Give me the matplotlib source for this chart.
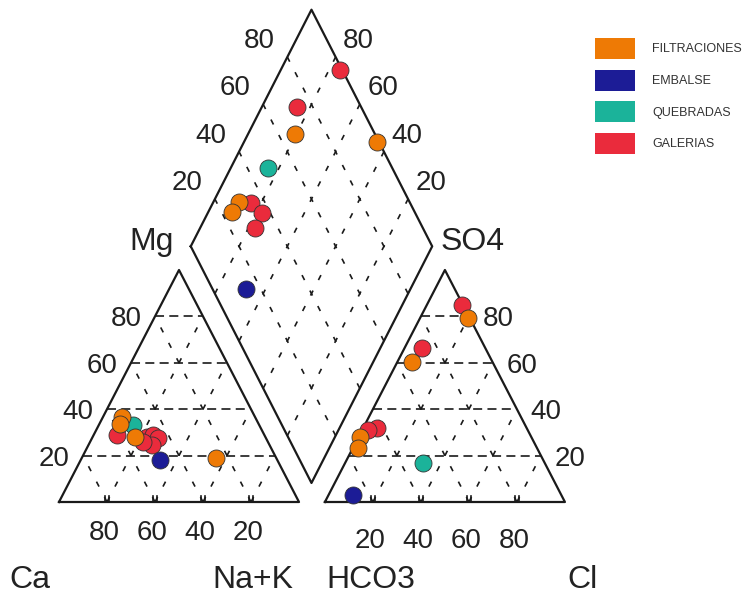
import matplotlib
matplotlib.use("Agg")
import matplotlib.pyplot as plt
from matplotlib.patches import Rectangle

plt.rcParams['font.family'] = ['Liberation Sans', 'DejaVu Sans']
plt.rcParams['lines.scale_dashes'] = False

# ---------------- data (percent) ----------------
groups = ["FILTRACIONES", "EMBALSE", "QUEBRADAS", "GALERIAS"]
colors = {"FILTRACIONES": "#EE7A05", "EMBALSE": "#1C1C96",
          "QUEBRADAS": "#1BB39A", "GALERIAS": "#EA2B3C"}

# cation triangle: Ca %, Mg %  (Na+K = 100 - Ca - Mg)
cat_ca = {"GALERIAS": [61.5, 49.4, 46.3, 44.9, 49.1, 51.9],
          "QUEBRADAS": [52.4],
          "FILTRACIONES": [55.4, 57.8, 54.3, 25.2],
          "EMBALSE": [48.9]}
cat_mg = {"GALERIAS": [28.9, 28.1, 28.9, 27.5, 24.6, 26.0],
          "QUEBRADAS": [33.2],
          "FILTRACIONES": [36.6, 33.6, 28.1, 18.8],
          "EMBALSE": [18.1]}

# anion triangle: Cl %, SO4 %  (HCO3 = 100 - Cl - SO4)
an_cl = {"GALERIAS": [14.5, 7.1, 5.6, 2.5],
         "QUEBRADAS": [32.5],
         "FILTRACIONES": [20.1, 5.9, 0.5, 2.3],
         "EMBALSE": [10.3]}
an_so4 = {"GALERIAS": [84.9, 66.3, 31.8, 31.0],
          "QUEBRADAS": [16.9],
          "FILTRACIONES": [79.2, 60.5, 28.1, 23.1],
          "EMBALSE": [3.0]}

# diamond: Ca+Mg %, SO4+Cl %
dia_camg = {"GALERIAS": [75.4, 85.3, 84.2, 77.3, 77.2],
            "QUEBRADAS": [84.5],
            "FILTRACIONES": [45.0, 80.5, 89.4, 90.1],
            "EMBALSE": [68.1]}
dia_so4cl = {"GALERIAS": [99.0, 73.6, 34.0, 36.7, 30.5],
             "QUEBRADAS": [48.8],
             "FILTRACIONES": [98.9, 66.9, 29.5, 24.6],
             "EMBALSE": [13.8]}

ticks = [20, 40, 60, 80]
draw_order = ["GALERIAS", "QUEBRADAS", "FILTRACIONES", "EMBALSE"]

# ---------------- geometry ----------------
SX, SY = 2.4, 2.32          # px per unit
X0, Y0 = 59, 502            # pixel of left-triangle Ca corner
RX = 110.8                  # right triangle origin
DCX, DHW, DYB, DHH = 105.2, 50.3, 8.2, 102.0


def px2d(px, py):
    return (px - X0) / SX, (Y0 - py) / SY


def cat_xy(ca, mg):
    nak = 100 - ca - mg
    return nak + mg / 2.0, mg


def an_xy(cl, so4):
    return RX + cl + so4 / 2.0, so4


def dia_xy(camg, so4cl):
    return DCX + DHW * (so4cl - camg) / 100.0, DYB + DHH * (camg + so4cl) / 100.0


fig = plt.figure(figsize=(7.49, 6.01), dpi=100)
ax = fig.add_axes([0, 0, 1, 1])
ax.set_xlim(-X0 / SX, (749 - X0) / SX)
ax.set_ylim((Y0 - 601) / SY, Y0 / SY)
ax.axis('off')

LC = "#1a1a1a"
OUT_LW = 1.6
GRID_LW = 1.2
hdash = (0, (6.5, 3.8))
ddash = (0, (4.0, 8.5))

# outlines
tri = [(0, 0), (100, 0), (50, 100), (0, 0)]
ax.plot([p[0] for p in tri], [p[1] for p in tri], color=LC, lw=OUT_LW, zorder=3)
ax.plot([p[0] + RX for p in tri], [p[1] for p in tri], color=LC, lw=OUT_LW, zorder=3)
dv = [dia_xy(100, 0), dia_xy(100, 100), dia_xy(0, 100), dia_xy(0, 0), dia_xy(100, 0)]
ax.plot([p[0] for p in dv], [p[1] for p in dv], color=LC, lw=OUT_LW, zorder=3)

# grids
for p in ticks:
    # left triangle
    ax.plot([p / 2, 100 - p / 2], [p, p], color=LC, lw=GRID_LW, ls=hdash, zorder=2)
    ax.plot([p, p + (100 - p) / 2], [0, 100 - p], color=LC, lw=GRID_LW, ls=ddash, zorder=2)
    ax.plot([100 - p, (100 - p) / 2], [0, 100 - p], color=LC, lw=GRID_LW, ls=ddash, zorder=2)
    # right triangle
    ax.plot([RX + p / 2, RX + 100 - p / 2], [p, p], color=LC, lw=GRID_LW, ls=hdash, zorder=2)
    ax.plot([RX + p, RX + p + (100 - p) / 2], [0, 100 - p], color=LC, lw=GRID_LW, ls=ddash, zorder=2)
    ax.plot([RX + 100 - p, RX + (100 - p) / 2], [0, 100 - p], color=LC, lw=GRID_LW, ls=ddash, zorder=2)
    # diamond
    a, b = dia_xy(p, 0), dia_xy(p, 100)
    ax.plot([a[0], b[0]], [a[1], b[1]], color=LC, lw=GRID_LW, ls=ddash, zorder=2)
    a, b = dia_xy(0, p), dia_xy(100, p)
    ax.plot([a[0], b[0]], [a[1], b[1]], color=LC, lw=GRID_LW, ls=ddash, zorder=2)
    # double base ticks
    for x0 in (p, RX + p):
        for dx in (-1.0, 1.0):
            ax.plot([x0 + dx, x0 + dx], [0, 2.6], color=LC, lw=1.2, zorder=3)

# tick labels
NUM = 20
TXT = "#222222"
for p in ticks:
    # Mg (left edge of cation triangle)
    ax.annotate(str(p), cat_xy(100 - p, p), xytext=(-21, -2.2), textcoords='offset points',
                ha='center', va='center', fontsize=NUM, color=TXT)
    # Ca along base
    ax.annotate(str(p), cat_xy(p, 0), xytext=(-2.2, -22.3), textcoords='offset points',
                ha='center', va='center', fontsize=NUM, color=TXT)
    # Cl along base
    ax.annotate(str(p), an_xy(p, 0), xytext=(-2.2, -28), textcoords='offset points',
                ha='center', va='center', fontsize=NUM, color=TXT)
    # SO4 right edge
    ax.annotate(str(p), an_xy(100 - p, p), xytext=(21, -2.2), textcoords='offset points',
                ha='center', va='center', fontsize=NUM, color=TXT)
    # diamond upper-left (SO4+Cl)
    ax.annotate(str(p), dia_xy(100, p), xytext=(-20, 11.5), textcoords='offset points',
                ha='center', va='center', fontsize=NUM, color=TXT)
    # diamond upper-right (Ca+Mg)
    ax.annotate(str(p), dia_xy(p, 100), xytext=(16.5, 11.5), textcoords='offset points',
                ha='center', va='center', fontsize=NUM, color=TXT)

BIG = 23
for s, (px, py) in {"Mg": (152, 242), "SO4": (473, 242), "Ca": (30, 580),
                    "Na+K": (253, 580), "HCO3": (371, 580), "Cl": (582, 580)}.items():
    ax.text(*px2d(px, py), s, ha='center', va='center', fontsize=BIG, color=TXT)

# points
MS = 150
for g in draw_order:
    xs, ys = zip(*[cat_xy(c, m) for c, m in zip(cat_ca[g], cat_mg[g])])
    ax.scatter(xs, ys, s=MS, c=colors[g], edgecolors="#333333", linewidths=0.6, zorder=5)
    xs, ys = zip(*[an_xy(c, s) for c, s in zip(an_cl[g], an_so4[g])])
    ax.scatter(xs, ys, s=MS, c=colors[g], edgecolors="#333333", linewidths=0.6, zorder=5)
    xs, ys = zip(*[dia_xy(c, s) for c, s in zip(dia_camg[g], dia_so4cl[g])])
    ax.scatter(xs, ys, s=MS, c=colors[g], edgecolors="#333333", linewidths=0.6, zorder=5)

# legend
for i, g in enumerate(groups):
    top = 38 + i * 31.5
    fig.patches.append(Rectangle((595 / 749, 1 - (top + 21) / 601), 40 / 749, 21 / 601,
                                 transform=fig.transFigure, facecolor=colors[g],
                                 edgecolor='none'))
    fig.text(652 / 749, 1 - (top + 11.5) / 601, g, ha='left', va='center',
             fontsize=9, color="#333333")

fig.savefig("out.png", dpi=100)
